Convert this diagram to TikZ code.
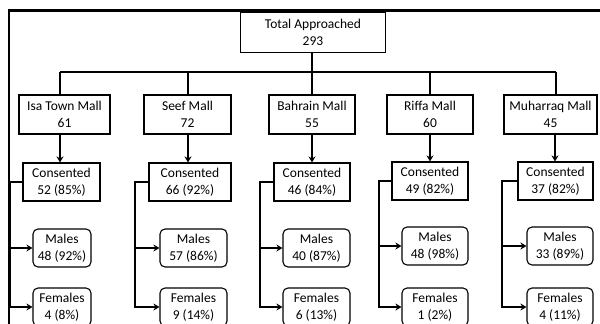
\documentclass[tikz,border=0pt]{standalone}
\usepackage{fontspec}
\setmainfont{Carlito}
\usetikzlibrary{arrows.meta}
\begin{document}
\begin{tikzpicture}[x=1pt,y=-1pt,
  box/.style={draw, line width=1.1pt, align=center, inner sep=0pt, font=\fontsize{13.5}{16.5}\selectfont},
  rbox/.style={box, rounded corners=5pt},
  conn/.style={line width=1.6pt, line join=miter},
  arr/.style={conn, -{Stealth[length=6pt,width=7pt]}}]
\useasboundingbox (0,0) rectangle (600,324);
\clip (0,0) rectangle (600,324);
% frame
\draw[line width=2.2pt] (9,324) -- (9,10.5) -- (600,10.5);
% top
\node[box, minimum width=145pt, minimum height=40pt] (tot) at (313,32.5) {Total Approached\\293};
% malls
\node[box, minimum width=91pt, minimum height=39pt] (isa) at (64.5,114.5) {Isa Town Mall\\61};
\node[box, minimum width=87pt, minimum height=39pt] (seef) at (187.5,114.5) {Seef Mall\\72};
\node[box, minimum width=86pt, minimum height=39pt] (bah) at (312,114.5) {Bahrain Mall\\55};
\node[box, minimum width=86pt, minimum height=39pt] (rif) at (430,114.5) {Riffa Mall\\60};
\node[box, minimum width=93pt, minimum height=39pt] (muh) at (550.5,114.5) {Muharraq Mall\\45};
% consented
\node[box, minimum width=77pt, minimum height=38pt] (ic) at (61.5,182) {Consented\\52 (85\%)};
\node[box, minimum width=82pt, minimum height=38pt] (sc) at (190,182) {Consented\\66 (92\%)};
\node[box, minimum width=76pt, minimum height=38pt] (bc) at (312,182) {Consented\\46 (84\%)};
\node[box, minimum width=76pt, minimum height=38pt] (rc) at (430,181) {Consented\\49 (82\%)};
\node[box, minimum width=75pt, minimum height=38pt] (mc) at (555.5,181) {Consented\\37 (82\%)};
% males
\node[rbox, minimum width=58pt, minimum height=38pt] (im) at (62,248) {Males\\48 (92\%)};
\node[rbox, minimum width=67pt, minimum height=38pt] (sm) at (193.5,248) {Males\\57 (86\%)};
\node[rbox, minimum width=67pt, minimum height=38pt] (bm) at (316.5,248) {Males\\40 (87\%)};
\node[rbox, minimum width=66pt, minimum height=38pt] (rm) at (435,246) {Males\\48 (98\%)};
\node[rbox, minimum width=66pt, minimum height=38pt] (mm) at (560,246) {Males\\33 (89\%)};
% females
\node[rbox, minimum width=58pt, minimum height=38pt] (if) at (62,307) {Females\\4 (8\%)};
\node[rbox, minimum width=67pt, minimum height=38pt] (sf) at (193.5,307) {Females\\9 (14\%)};
\node[rbox, minimum width=67pt, minimum height=38pt] (bf) at (316.5,307) {Females\\6 (13\%)};
\node[rbox, minimum width=66pt, minimum height=38pt] (rf) at (435,307) {Females\\1 (2\%)};
\node[rbox, minimum width=66pt, minimum height=38pt] (mf) at (560,307) {Females\\4 (11\%)};
% bus
\coordinate (j1) at (60,72);
\coordinate (j2) at (188,72);
\coordinate (j3) at (312,72);
\coordinate (j4) at (430,72);
\coordinate (j5) at (556,72);
\draw[conn] (tot.south -| j3) -- (j3);
\draw[line width=1.4pt] (j1) -- (j5);
\draw[conn] (j1) -- (j1 |- isa.north);
\draw[conn] (j2) -- (j2 |- seef.north);
\draw[conn] (j3) -- (j3 |- bah.north);
\draw[conn] (j4) -- (j4 |- rif.north);
\draw[conn] (j5) -- (j5 |- muh.north);
% mall -> consented
\draw[arr] (j1 |- isa.south) -- (j1 |- ic.north);
\draw[arr] (j2 |- seef.south) -- (j2 |- sc.north);
\draw[arr] (j3 |- bah.south) -- (j3 |- bc.north);
\draw[arr] (j4 |- rif.south) -- (j4 |- rc.north);
\draw[arr] (555,0 |- muh.south) -- (555,0 |- mc.north);
% branches
\coordinate (k1) at (10,0);
\coordinate (k2) at (135,0);
\coordinate (k3) at (260,0);
\coordinate (k4) at (379,0);
\coordinate (k5) at (502,0);
\draw[arr] (ic.west) -- (k1 |- ic.west) -- (k1 |- if.west) -- (if.west);
\draw[arr] (k1 |- im.west) -- (im.west);
\draw[arr] (sc.west) -- (k2 |- sc.west) -- (k2 |- sf.west) -- (sf.west);
\draw[arr] (k2 |- sm.west) -- (sm.west);
\draw[arr] (bc.west) -- (k3 |- bc.west) -- (k3 |- bf.west) -- (bf.west);
\draw[arr] (k3 |- bm.west) -- (bm.west);
\draw[arr] (rc.west) -- (k4 |- rc.west) -- (k4 |- rf.west) -- (rf.west);
\draw[arr] (k4 |- rm.west) -- (rm.west);
\draw[arr] (mc.west) -- (k5 |- mc.west) -- (k5 |- mf.west) -- (mf.west);
\draw[arr] (k5 |- mm.west) -- (mm.west);
\end{tikzpicture}
\end{document}
